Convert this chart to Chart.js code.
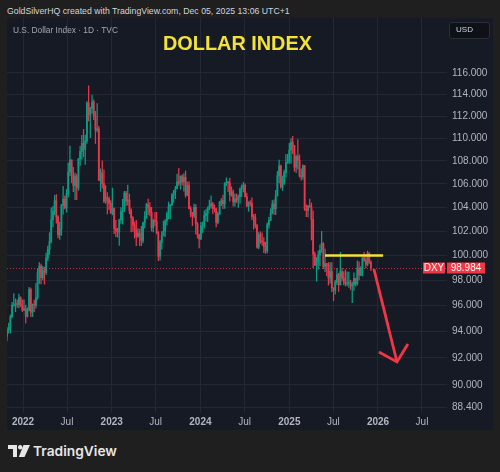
<!DOCTYPE html>
<html><head><meta charset="utf-8">
<script src="https://cdn.jsdelivr.net/npm/chart.js@4.4.1/dist/chart.umd.min.js"></script>
<style>
html,body{margin:0;padding:0;background:#1f1f1f;width:500px;height:472px;overflow:hidden;font-family:"Liberation Sans",Arial,sans-serif}
#panel{position:absolute;left:7px;top:18px;width:486px;height:412px;background:#161a25}
#wrap{position:absolute;left:0;top:0;width:486px;height:412px}
.t{position:absolute;white-space:nowrap;line-height:1;display:inline-block}
#usdbox{position:absolute;left:449px;top:22px;width:41px;height:17px;box-sizing:border-box;background:#0f1119;border:1px solid #2a2e39;border-radius:3px}
</style></head><body>
<div class="t" data-w="283" data-cy="11" style="left:7px;color:#d1d4dc;font-size:10px">GoldSilverHQ created with TradingView.com, Dec 05, 2025 13:06 UTC+1</div>
<div id="panel"><div id="wrap"><canvas id="c"></canvas></div></div>
<div class="t" data-w="105" data-cy="30" style="left:13px;color:#a3a6af;font-size:10px">U.S. Dollar Index · 1D · TVC</div>
<div class="t" data-w="149" data-cy="43.5" style="left:163px;color:#f2e23a;font-size:20px;font-weight:bold">DOLLAR INDEX</div>
<div id="usdbox"></div>
<div class="t" data-w="17" data-cy="30.5" style="left:456px;color:#d1d4dc;font-size:10px">USD</div>
<svg style="position:absolute;left:8px;top:445px" width="22" height="12" viewBox="0 0 22 12">
<path d="M0 0H9V12H5V4H0Z" fill="#e6e6e6"/><circle cx="12.2" cy="2.2" r="2.2" fill="#e6e6e6"/><path d="M15.5 0H22L16.5 12H10.8Z" fill="#e6e6e6"/></svg>
<div class="t" data-w="84" data-cy="451.5" style="left:33px;color:#e6e6e6;font-size:16px;font-weight:600;font-family:Inter,'Liberation Sans',sans-serif">TradingView</div>
<script>
// ---- DATA: weekly candles of DXY, weeks starting Monday ----
const weekStart = '2021-10-25';
const opens = [
93.63,94.12,94.32,95.13,96.03,96.08,96.16,96.08,96.62,96.00,
95.67,95.75,95.17,95.64,97.27,95.48,96.05,96.03,96.61,98.62,99.13,98.21,98.79,98.62,99.79,100.50,101.13,102.96,103.66,104.56,103.18,101.68,102.14,104.15,104.68,103.95,105.14,107.01,108.07,106.73,105.85,106.62,105.67,108.16,108.82,109.55,109.00,109.75,113.19,112.12,112.73,113.31,111.99,110.75,110.83,106.30,106.94,106.01,104.51,104.82,104.70,104.32,
103.52,103.89,102.20,101.99,101.93,102.92,103.63,103.87,105.21,104.52,104.58,103.72,103.12,102.51,102.10,101.55,101.83,101.66,101.22,102.68,103.19,104.22,103.98,103.56,102.28,102.89,102.81,101.87,99.93,101.08,101.63,101.99,102.85,103.40,104.08,104.20,105.05,105.32,105.58,106.17,106.04,106.66,106.16,106.56,105.02,105.87,103.87,103.41,103.25,103.99,102.59,101.70,
101.33,102.41,102.41,103.29,103.47,103.92,104.11,104.29,103.87,103.86,102.71,103.43,104.43,104.55,104.30,106.04,106.13,106.09,105.04,105.30,104.45,104.72,104.61,104.89,105.55,105.80,105.87,104.88,104.09,104.40,104.32,103.21,103.14,102.44,100.68,101.70,101.18,101.10,100.72,100.38,102.52,102.89,103.49,104.26,103.87,104.98,106.69,107.55,105.74,106.06,106.99,107.82,108.00,
108.95,109.65,109.35,107.44,108.37,108.04,106.71,106.61,107.56,103.84,103.72,104.09,104.04,102.97,100.10,99.23,99.47,100.04,100.42,100.98,99.11,99.33,99.19,98.18,98.71,97.40,97.18,97.85,98.46,97.65,98.69,98.18,97.85,97.72,97.77,97.77,97.55,97.65,98.15,97.72,98.98,98.43,98.95,99.80,99.61,99.27,100.19,99.46];
const highs = [
94.30,94.64,95.27,96.25,96.94,96.52,96.46,96.91,96.70,96.46,
96.46,96.04,95.83,97.44,97.38,96.13,96.43,97.74,98.93,99.42,99.29,99.11,99.05,100.19,100.77,101.86,103.94,104.07,105.01,105.07,103.30,102.74,104.24,105.79,104.95,105.51,107.79,109.29,108.10,107.43,106.93,106.81,108.20,109.27,110.26,110.79,110.28,113.33,114.78,112.80,113.92,113.50,112.43,113.15,111.07,107.29,107.99,107.20,105.85,105.24,104.88,104.56,
105.63,103.95,102.90,102.24,103.00,103.96,104.67,105.36,105.36,105.88,105.11,103.89,103.20,102.77,102.89,102.20,102.17,102.40,102.75,103.63,104.32,104.69,104.40,103.99,103.00,103.54,103.57,101.96,101.23,101.96,102.84,102.96,103.59,104.44,104.24,105.16,105.43,105.78,106.84,107.35,106.68,106.78,106.89,107.11,106.14,106.18,104.05,103.57,104.26,104.22,102.72,101.75,
102.73,102.76,103.69,103.82,104.03,104.60,104.97,104.41,104.20,103.93,103.58,104.49,104.73,105.03,106.10,106.52,106.19,106.49,105.74,105.47,105.12,105.14,105.02,105.66,105.91,106.13,106.00,105.20,104.47,104.57,104.80,103.40,103.41,102.55,101.88,101.94,101.85,101.47,101.08,102.69,103.14,103.87,104.57,104.63,105.44,107.07,108.07,107.63,106.67,107.18,108.54,108.58,109.54,
109.96,110.18,109.37,108.50,109.88,108.52,107.30,107.64,107.60,104.19,104.16,104.68,104.36,103.70,100.28,99.85,100.38,100.86,101.98,101.05,100.54,99.35,99.42,99.42,99.42,97.40,97.99,98.95,98.55,100.26,98.97,98.69,98.84,98.68,98.65,98.01,97.85,98.60,98.16,99.56,99.47,99.09,99.84,100.26,99.82,100.36,100.24,99.56];
const lows = [
93.28,93.87,93.87,95.06,95.93,95.52,95.86,95.82,95.92,95.53,
95.60,94.63,95.10,95.58,95.14,95.14,95.52,95.80,96.50,97.72,97.71,98.02,97.69,98.45,99.57,100.07,101.02,102.35,103.36,102.66,101.43,101.30,101.64,103.41,103.86,103.58,104.88,106.69,106.10,105.33,104.64,104.64,105.45,107.60,108.15,108.35,107.68,109.53,111.56,110.06,112.26,111.68,109.53,110.56,106.28,105.34,105.62,104.38,104.31,103.44,103.80,103.45,
103.36,101.78,101.53,101.50,100.82,102.64,102.58,103.63,104.10,104.18,103.44,101.92,101.96,101.42,100.79,101.47,100.79,100.79,101.03,102.26,103.06,103.37,103.27,102.00,101.92,102.45,101.77,99.58,99.62,100.51,101.60,101.53,102.50,103.02,103.02,104.15,104.43,104.72,105.56,105.85,105.53,105.88,105.36,104.84,104.97,103.85,103.18,102.46,103.11,101.77,101.42,100.61,
101.30,101.88,102.25,102.84,102.79,103.78,103.92,103.44,103.59,102.34,102.59,103.36,104.12,103.88,103.89,105.83,105.33,104.52,104.92,104.08,104.08,104.39,103.99,104.33,104.90,105.29,104.87,104.07,103.65,104.09,102.96,102.16,102.27,100.59,100.52,100.97,100.82,100.22,100.16,100.20,102.23,102.88,103.44,103.38,103.37,104.94,106.08,105.63,105.42,105.95,106.56,107.77,107.76,
107.76,108.63,107.08,106.97,107.26,106.56,106.31,106.40,103.72,103.21,103.19,103.98,101.26,99.01,99.16,97.92,98.89,99.17,100.25,98.93,98.69,98.36,97.61,97.77,97.09,96.38,96.90,97.65,97.11,97.60,97.96,97.63,97.55,97.56,97.43,97.26,96.22,97.20,97.53,97.60,98.03,98.36,98.33,99.52,98.99,99.16,99.35,98.77];
const closes = [
94.12,94.32,95.13,96.03,96.08,96.16,96.08,96.62,96.00,95.67,
95.75,95.17,95.64,97.27,95.48,96.05,96.03,96.61,98.62,99.13,98.21,98.79,98.62,99.79,100.50,101.13,102.96,103.66,104.56,103.18,101.68,102.14,104.15,104.68,103.95,105.14,107.01,108.07,106.73,105.85,106.62,105.67,108.16,108.82,109.55,109.00,109.75,113.19,112.12,112.73,113.31,111.99,110.75,110.83,106.30,106.94,106.01,104.51,104.82,104.70,104.32,103.52,
103.89,102.20,101.99,101.93,102.92,103.63,103.87,105.21,104.52,104.58,103.72,103.12,102.51,102.10,101.55,101.83,101.66,101.22,102.68,103.19,104.22,103.98,103.56,102.28,102.89,102.81,101.87,99.93,101.08,101.63,101.99,102.85,103.40,104.08,104.20,105.05,105.32,105.58,106.17,106.04,106.66,106.16,106.56,105.02,105.87,103.87,103.41,103.25,103.99,102.59,101.70,101.33,
102.41,102.41,103.29,103.47,103.92,104.11,104.29,103.87,103.86,102.71,103.43,104.43,104.55,104.30,106.04,106.13,106.09,105.04,105.30,104.45,104.72,104.61,104.89,105.55,105.80,105.87,104.88,104.09,104.40,104.32,103.21,103.14,102.44,100.68,101.70,101.18,101.10,100.72,100.38,102.52,102.89,103.49,104.26,103.87,104.98,106.69,107.55,105.74,106.06,106.99,107.82,108.00,108.95,
109.65,109.35,107.44,108.37,108.04,106.71,106.61,107.56,103.84,103.72,104.09,104.04,102.97,100.10,99.23,99.47,100.04,100.42,100.98,99.11,99.33,99.19,98.18,98.71,97.40,97.18,97.85,98.46,97.65,98.69,98.18,97.85,97.72,97.77,97.77,97.55,97.65,98.15,97.72,98.98,98.43,98.95,99.80,99.61,99.27,100.19,99.46,98.984];
const symbol = 'DXY';
const priceTicks = [88.4,90,92,94,96,98,100,102,104,106,108,110,112,114,116];
const timeTickDates = ['2022-01-01','2022-07-01','2023-01-01','2023-07-01','2024-01-01','2024-07-01','2025-01-01','2025-07-01','2026-01-01','2026-07-01'];
const timeTickLabels = ['2022','Jul','2023','Jul','2024','Jul','2025','Jul','2026','Jul'];
const levelDates = ['2025-05-28','2026-01-22'];
const levelPrices = [100,100];
const arrowDates = ['2025-12-15','2026-03-20'];
const arrowPrices = [98.9,91.7];
const headDates = ['2026-01-05','2026-03-20','2026-05-04'];
const headPrices = [92.45,91.7,93.05];
const viewStart = '2021-10-27', viewEnd = '2026-10-12';

// ---- text fitting ----
document.querySelectorAll('.t').forEach(el=>{
  const w = el.getBoundingClientRect().width, fs = parseFloat(el.style.fontSize);
  const nfs = fs * parseFloat(el.dataset.w) / w;
  el.style.fontSize = nfs + 'px';
  el.style.top = (parseFloat(el.dataset.cy) - nfs*0.5) + 'px';
});

// ---- chart ----
const DAY = 86400000, ORIGIN = Date.UTC(2022,0,1);
const dayOf = s => { const [y,m,d] = s.split('-').map(Number); return (Date.UTC(y,m-1,d)-ORIGIN)/DAY; };
const up = '#0b9d84', dn = '#e8364a', gridC = '#242834';
const xs = opens.map((_,i)=> dayOf(weekStart) + 7*i + 2);
const wickData = xs.map((x,i)=>({x, y:[lows[i], highs[i]]}));
const bodyData = xs.map((x,i)=>({x, y:[Math.min(opens[i],closes[i]), Math.max(opens[i],closes[i])]}));
const col = c => closes[c.dataIndex] >= opens[c.dataIndex] ? up : dn;
const pts = (ds, ps) => ds.map((d,i)=>({x:dayOf(d), y:ps[i]}));
const timeDays = timeTickDates.map(dayOf);
const FAM = '"Liberation Sans", Arial, sans-serif';
Chart.defaults.font.family = FAM;

const lastPrice = {
  id:'lastPrice',
  beforeDatasetsDraw(chart){
    const {ctx, chartArea:a, scales:{y}} = chart;
    const py = Math.round(y.getPixelForValue(closes[closes.length-1])) + 0.5;
    ctx.save(); ctx.strokeStyle = '#f23645'; ctx.globalAlpha = 0.75; ctx.lineWidth = 1;
    ctx.setLineDash([1,2]); ctx.beginPath(); ctx.moveTo(a.left, py); ctx.lineTo(a.right, py); ctx.stroke(); ctx.restore();
  },
  afterDraw(chart){
    const {ctx, chartArea:a, scales:{y}} = chart;
    const v = closes[closes.length-1];
    const py = Math.round(y.getPixelForValue(v));
    ctx.save();
    ctx.fillStyle = '#f23645';
    ctx.fillRect(a.right-24, py-5.5, 22, 11);
    ctx.fillRect(a.right, py-5.5, 38, 11);
    ctx.fillStyle = '#ffffff'; ctx.font = '10px ' + FAM; ctx.textBaseline = 'middle'; ctx.textAlign = 'center';
    ctx.fillText(symbol, a.right-13, py+0.5);
    ctx.fillText(v.toFixed(3), a.right+19, py+0.5);
    ctx.restore();
  }
};

new Chart(document.getElementById('c'), {
  type:'bar',
  data:{datasets:[
    {type:'line', data:pts(levelDates, levelPrices), borderColor:'#f2e23a', borderWidth:2.5, pointRadius:0, borderCapStyle:'butt'},
    {type:'line', data:pts(arrowDates, arrowPrices), borderColor:'#f23645', borderWidth:2.8, pointRadius:0, borderCapStyle:'butt'},
    {type:'line', data:pts(headDates, headPrices), borderColor:'#f23645', borderWidth:2.8, pointRadius:0, borderJoinStyle:'miter', borderCapStyle:'butt'},
    {data:bodyData, backgroundColor:col, barThickness:1.2, grouped:false, minBarLength:1},
    {data:wickData, backgroundColor:col, barThickness:0.6, grouped:false}
  ]},
  options:{
    responsive:true, maintainAspectRatio:false, animation:false, devicePixelRatio:1,
    layout:{padding:0},
    plugins:{legend:{display:false}, tooltip:{enabled:false}},
    scales:{
      x:{type:'linear', offset:false, min:dayOf(viewStart), max:dayOf(viewEnd),
        grid:{color:gridC, drawTicks:false, offset:false}, border:{display:false},
        ticks:{color:'#b2b5be', padding:3, autoSkip:false, maxRotation:0,
          font:c=>({family:FAM, size:10, weight:(c.index!==undefined && timeTickLabels[c.index]!=='Jul')?'bold':'normal'}),
          callback:(v,i)=>timeTickLabels[i]},
        afterBuildTicks:s=>{ s.ticks = timeDays.map(v=>({value:v})); },
        afterFit:s=>{ s.height = 17; s.paddingLeft = 0; s.paddingRight = 0; }},
      y:{type:'logarithmic', position:'right', offset:false, min:87.97, max:121.3,
        grid:{color:gridC, drawTicks:false}, border:{display:false},
        ticks:{color:'#b2b5be', padding:5, autoSkip:false, font:{size:10}, callback:v=>Number(v).toFixed(3)},
        afterBuildTicks:s=>{ s.ticks = priceTicks.map(v=>({value:v})); },
        afterFit:s=>{ s.width = 46; s.paddingTop = 0; s.paddingBottom = 0; }}
    }
  },
  plugins:[lastPrice]
});
</script>
</body></html>
